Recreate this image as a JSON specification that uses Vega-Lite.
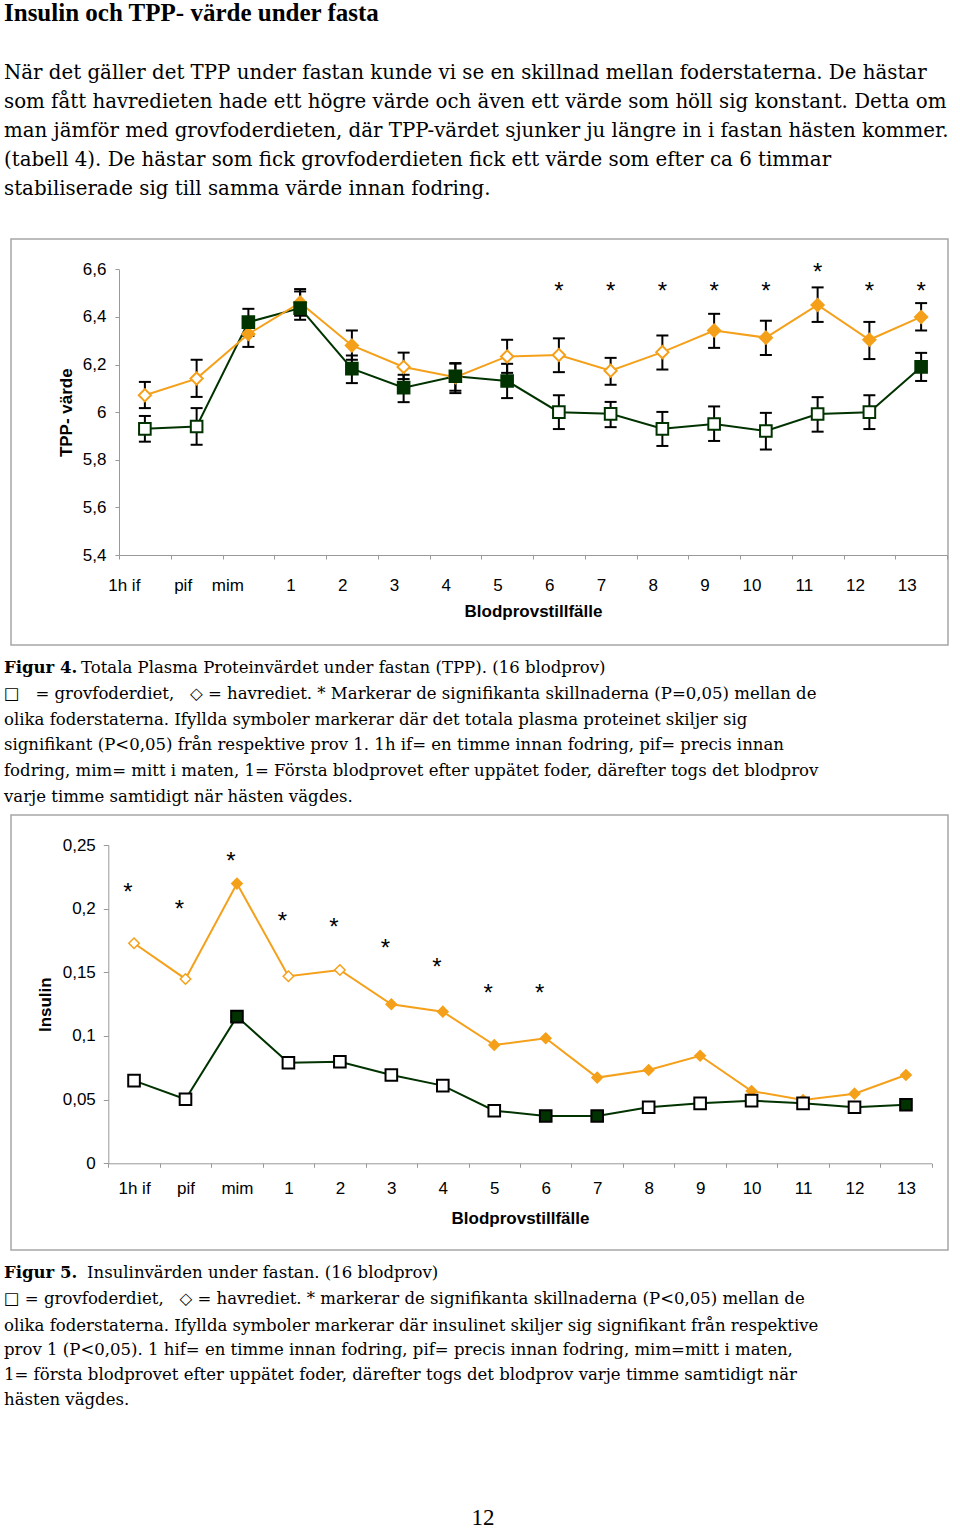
{
  "$schema": "https://vega.github.io/schema/vega-lite/v6.json",
  "background": "white",
  "padding": {"left": 4, "top": 0, "right": 0, "bottom": 0},
  "autosize": {"type": "pad"},
  "spacing": 0,
  "bounds": "flush",
  "config": {"view": {"stroke": null}, "font": "Liberation Sans", "axis": {"grid": false}},
  "datasets": {
    "tpp": [
      {"prov": "1h if", "serie": "Grovfoder", "v": 5.93, "lo": 5.876, "hi": 5.984, "sig": false},
      {"prov": "pif", "serie": "Grovfoder", "v": 5.94, "lo": 5.863, "hi": 6.017, "sig": false},
      {"prov": "mim", "serie": "Grovfoder", "v": 6.378, "lo": 6.32, "hi": 6.434, "sig": true},
      {"prov": "1", "serie": "Grovfoder", "v": 6.437, "lo": 6.388, "hi": 6.507, "sig": true},
      {"prov": "2", "serie": "Grovfoder", "v": 6.183, "lo": 6.122, "hi": 6.238, "sig": true},
      {"prov": "3", "serie": "Grovfoder", "v": 6.103, "lo": 6.042, "hi": 6.157, "sig": true},
      {"prov": "4", "serie": "Grovfoder", "v": 6.151, "lo": 6.08, "hi": 6.206, "sig": true},
      {"prov": "5", "serie": "Grovfoder", "v": 6.131, "lo": 6.059, "hi": 6.203, "sig": true},
      {"prov": "6", "serie": "Grovfoder", "v": 6.0, "lo": 5.929, "hi": 6.071, "sig": false},
      {"prov": "7", "serie": "Grovfoder", "v": 5.993, "lo": 5.937, "hi": 6.043, "sig": false},
      {"prov": "8", "serie": "Grovfoder", "v": 5.93, "lo": 5.858, "hi": 6.001, "sig": false},
      {"prov": "9", "serie": "Grovfoder", "v": 5.95, "lo": 5.879, "hi": 6.024, "sig": false},
      {"prov": "10", "serie": "Grovfoder", "v": 5.921, "lo": 5.843, "hi": 5.997, "sig": false},
      {"prov": "11", "serie": "Grovfoder", "v": 5.992, "lo": 5.918, "hi": 6.063, "sig": false},
      {"prov": "12", "serie": "Grovfoder", "v": 6.0, "lo": 5.929, "hi": 6.071, "sig": false},
      {"prov": "13", "serie": "Grovfoder", "v": 6.19, "lo": 6.131, "hi": 6.249, "sig": true},
      {"prov": "1h if", "serie": "Havre", "v": 6.071, "lo": 6.017, "hi": 6.127, "sig": false},
      {"prov": "pif", "serie": "Havre", "v": 6.141, "lo": 6.064, "hi": 6.22, "sig": false},
      {"prov": "mim", "serie": "Havre", "v": 6.328, "lo": 6.274, "hi": 6.382, "sig": true},
      {"prov": "1", "serie": "Havre", "v": 6.46, "lo": 6.405, "hi": 6.517, "sig": true},
      {"prov": "2", "serie": "Havre", "v": 6.28, "lo": 6.22, "hi": 6.343, "sig": true},
      {"prov": "3", "serie": "Havre", "v": 6.19, "lo": 6.139, "hi": 6.25, "sig": false},
      {"prov": "4", "serie": "Havre", "v": 6.147, "lo": 6.09, "hi": 6.204, "sig": false},
      {"prov": "5", "serie": "Havre", "v": 6.234, "lo": 6.165, "hi": 6.304, "sig": false},
      {"prov": "6", "serie": "Havre", "v": 6.24, "lo": 6.168, "hi": 6.31, "sig": false},
      {"prov": "7", "serie": "Havre", "v": 6.174, "lo": 6.115, "hi": 6.228, "sig": false},
      {"prov": "8", "serie": "Havre", "v": 6.252, "lo": 6.179, "hi": 6.322, "sig": false},
      {"prov": "9", "serie": "Havre", "v": 6.343, "lo": 6.27, "hi": 6.413, "sig": true},
      {"prov": "10", "serie": "Havre", "v": 6.313, "lo": 6.24, "hi": 6.384, "sig": true},
      {"prov": "11", "serie": "Havre", "v": 6.45, "lo": 6.379, "hi": 6.524, "sig": true},
      {"prov": "12", "serie": "Havre", "v": 6.304, "lo": 6.223, "hi": 6.379, "sig": true},
      {"prov": "13", "serie": "Havre", "v": 6.4, "lo": 6.343, "hi": 6.458, "sig": true}
    ],
    "tpp_stjarna": [
      {"prov": "6", "y": 6.535}, {"prov": "7", "y": 6.535}, {"prov": "8", "y": 6.535},
      {"prov": "9", "y": 6.535}, {"prov": "10", "y": 6.535}, {"prov": "11", "y": 6.611},
      {"prov": "12", "y": 6.535}, {"prov": "13", "y": 6.535}
    ],
    "ins": [
      {"prov": "1h if", "serie": "Grovfoder", "v": 0.0649, "sig": false},
      {"prov": "pif", "serie": "Grovfoder", "v": 0.0503, "sig": false},
      {"prov": "mim", "serie": "Grovfoder", "v": 0.1152, "sig": true},
      {"prov": "1", "serie": "Grovfoder", "v": 0.079, "sig": false},
      {"prov": "2", "serie": "Grovfoder", "v": 0.0798, "sig": false},
      {"prov": "3", "serie": "Grovfoder", "v": 0.0694, "sig": false},
      {"prov": "4", "serie": "Grovfoder", "v": 0.061, "sig": false},
      {"prov": "5", "serie": "Grovfoder", "v": 0.0413, "sig": false},
      {"prov": "6", "serie": "Grovfoder", "v": 0.0372, "sig": true},
      {"prov": "7", "serie": "Grovfoder", "v": 0.0372, "sig": true},
      {"prov": "8", "serie": "Grovfoder", "v": 0.044, "sig": false},
      {"prov": "9", "serie": "Grovfoder", "v": 0.0471, "sig": false},
      {"prov": "10", "serie": "Grovfoder", "v": 0.0492, "sig": false},
      {"prov": "11", "serie": "Grovfoder", "v": 0.0471, "sig": false},
      {"prov": "12", "serie": "Grovfoder", "v": 0.044, "sig": false},
      {"prov": "13", "serie": "Grovfoder", "v": 0.046, "sig": true},
      {"prov": "1h if", "serie": "Havre", "v": 0.1728, "sig": false},
      {"prov": "pif", "serie": "Havre", "v": 0.1448, "sig": false},
      {"prov": "mim", "serie": "Havre", "v": 0.2197, "sig": true},
      {"prov": "1", "serie": "Havre", "v": 0.1469, "sig": false},
      {"prov": "2", "serie": "Havre", "v": 0.1518, "sig": false},
      {"prov": "3", "serie": "Havre", "v": 0.1249, "sig": true},
      {"prov": "4", "serie": "Havre", "v": 0.1191, "sig": true},
      {"prov": "5", "serie": "Havre", "v": 0.0929, "sig": true},
      {"prov": "6", "serie": "Havre", "v": 0.0982, "sig": true},
      {"prov": "7", "serie": "Havre", "v": 0.0673, "sig": true},
      {"prov": "8", "serie": "Havre", "v": 0.0733, "sig": true},
      {"prov": "9", "serie": "Havre", "v": 0.0845, "sig": true},
      {"prov": "10", "serie": "Havre", "v": 0.0568, "sig": true},
      {"prov": "11", "serie": "Havre", "v": 0.0497, "sig": true},
      {"prov": "12", "serie": "Havre", "v": 0.0547, "sig": true},
      {"prov": "13", "serie": "Havre", "v": 0.0694, "sig": true}
    ],
    "ins_stjarna": [
      {"prov": "1h if", "y": 0.2173}, {"prov": "pif", "y": 0.2042}, {"prov": "mim", "y": 0.2416},
      {"prov": "1", "y": 0.195}, {"prov": "2", "y": 0.1903}, {"prov": "3", "y": 0.1733},
      {"prov": "4", "y": 0.1584}, {"prov": "5", "y": 0.1383}, {"prov": "6", "y": 0.1383}
    ]
  },
  "vconcat": [
    {
      "width": 937, "height": 239,
      "layer": [
        {
          "data": {"values": [{"rad": 0, "text": "Insulin och TPP- värde under fasta"}]},
          "mark": {"type": "text", "align": "left", "baseline": "alphabetic", "font": "Liberation Serif", "fontSize": 25, "fontWeight": "bold", "fill": "black"},
          "encoding": {
            "x": {"value": -7},
            "y": {"field": "rad", "type": "quantitative", "scale": {"domain": [0, 1, 5], "range": [20.8, 78.5, 194.5]}, "axis": null},
            "text": {"field": "text"}
          }
        },
        {
          "data": {"values": [
            {"rad": 1, "text": "När det gäller det TPP under fastan kunde vi se en skillnad mellan foderstaterna. De hästar"},
            {"rad": 2, "text": "som fått havredieten hade ett högre värde och även ett värde som höll sig konstant. Detta om"},
            {"rad": 3, "text": "man jämför med grovfoderdieten, där TPP-värdet sjunker ju längre in i fastan hästen kommer."},
            {"rad": 4, "text": "(tabell 4). De hästar som fick grovfoderdieten fick ett värde som efter ca 6 timmar"},
            {"rad": 5, "text": "stabiliserade sig till samma värde innan fodring."}
          ]},
          "mark": {"type": "text", "align": "left", "baseline": "alphabetic", "font": "DejaVu Serif", "fontSize": 19.8, "fill": "black"},
          "encoding": {
            "x": {"value": -7},
            "y": {"field": "rad", "type": "quantitative", "scale": {"domain": [0, 1, 5], "range": [20.8, 78.5, 194.5]}, "axis": null},
            "text": {"field": "text"}
          }
        }
      ]
    },
    {
      "width": 937, "height": 406,
      "view": {"stroke": "#a6a6a6", "strokeWidth": 1.5},
      "encoding": {
        "x": {
          "field": "prov", "type": "nominal",
          "sort": ["1h if", "pif", "mim", "1", "2", "3", "4", "5", "6", "7", "8", "9", "10", "11", "12", "13"],
          "scale": {"type": "band", "domain": ["1h if", "pif", "mim", "1", "2", "3", "4", "5", "6", "7", "8", "9", "10", "11", "12", "13"], "range": [108, 936], "paddingInner": 0, "paddingOuter": 0},
          "axis": {
            "title": "Blodprovstillfälle", "orient": "bottom", "offset": -90, "tickBand": "extent",
            "tickSize": 4, "tickColor": "#999999", "domainColor": "#999999", "labelAngle": 0,
            "labelAlign": "right", "labelOffset": -5, "labelBaseline": "alphabetic", "labelPadding": 31,
            "labelFont": "Liberation Sans", "labelFontSize": 17, "labelColor": "black", "labelOverlap": false, "labelFlush": false,
            "titleFont": "Liberation Sans", "titleFontSize": 17, "titleFontWeight": "bold", "titleColor": "black",
            "titleY": 61, "titleBaseline": "alphabetic"
          }
        }
      },
      "layer": [
        {
          "data": {"name": "tpp"},
          "mark": {"type": "line", "strokeWidth": 2},
          "encoding": {
            "y": {
              "field": "v", "type": "quantitative",
              "scale": {"domain": [5.4, 6.6], "range": [316, 30.3], "nice": false, "zero": false},
              "axis": {
                "title": "TPP- värde", "orient": "left", "offset": -108,
                "values": [5.4, 5.6, 5.8, 6, 6.2, 6.4, 6.6],
                "labelExpr": "replace(toString(round(datum.value*10)/10), '.', ',')",
                "tickSize": 4, "labelPadding": 9, "tickColor": "#999999", "domainColor": "#999999",
                "labelFont": "Liberation Sans", "labelFontSize": 17, "labelColor": "black",
                "titleFont": "Liberation Sans", "titleFontSize": 17, "titleFontWeight": "bold", "titleColor": "black",
                "titleX": -48, "titleY": 173.2, "titleAngle": -90, "titleAlign": "center", "titleBaseline": "alphabetic"
              }
            },
            "color": {"field": "serie", "type": "nominal", "scale": {"domain": ["Grovfoder", "Havre"], "range": ["#003300", "#f5a01a"]}, "legend": null}
          }
        },
        {
          "data": {"name": "tpp"},
          "mark": {"type": "rule", "color": "black", "strokeWidth": 2},
          "encoding": {
            "y": {"field": "lo", "type": "quantitative"},
            "y2": {"field": "hi"}
          }
        },
        {
          "data": {"name": "tpp"},
          "mark": {"type": "tick", "color": "black", "size": 12, "thickness": 2, "opacity": 1},
          "encoding": {"y": {"field": "lo", "type": "quantitative"}}
        },
        {
          "data": {"name": "tpp"},
          "mark": {"type": "tick", "color": "black", "size": 12, "thickness": 2, "opacity": 1},
          "encoding": {"y": {"field": "hi", "type": "quantitative"}}
        },
        {
          "data": {"name": "tpp"},
          "transform": [{"filter": "datum.serie === 'Havre'"}],
          "mark": {"type": "point", "shape": "diamond", "size": 150, "filled": true, "stroke": "#f5a01a", "strokeWidth": 2, "opacity": 1},
          "encoding": {
            "y": {"field": "v", "type": "quantitative"},
            "fill": {"condition": {"test": "datum.sig", "value": "#f5a01a"}, "value": "white"}
          }
        },
        {
          "data": {"name": "tpp"},
          "transform": [{"filter": "datum.serie === 'Grovfoder'"}],
          "mark": {"type": "point", "shape": "square", "size": 135, "filled": true, "stroke": "#003300", "strokeWidth": 2, "opacity": 1},
          "encoding": {
            "y": {"field": "v", "type": "quantitative"},
            "fill": {"condition": {"test": "datum.sig", "value": "#003300"}, "value": "white"}
          }
        },
        {
          "data": {"name": "tpp_stjarna"},
          "mark": {"type": "text", "text": "*", "font": "Liberation Sans", "fontSize": 24, "baseline": "alphabetic", "dy": 13.8, "fill": "black"},
          "encoding": {"y": {"field": "y", "type": "quantitative"}}
        }
      ]
    },
    {
      "width": 937, "height": 170,
      "layer": [
        {
          "data": {"values": [{"rad": 1, "text": "Figur 4."}]},
          "mark": {"type": "text", "align": "left", "baseline": "alphabetic", "font": "DejaVu Serif", "fontSize": 16.55, "fontWeight": "bold", "fill": "black"},
          "encoding": {
            "x": {"value": -7},
            "y": {"field": "rad", "type": "quantitative", "scale": {"domain": [1, 6], "range": [28.3, 156.8]}, "axis": null},
            "text": {"field": "text"}
          }
        },
        {
          "data": {"values": [{"rad": 1, "text": "Totala Plasma Proteinvärdet under fastan (TPP). (16 blodprov)"}]},
          "mark": {"type": "text", "align": "left", "baseline": "alphabetic", "font": "DejaVu Serif", "fontSize": 16.55, "dx": 77, "fill": "black"},
          "encoding": {
            "x": {"value": -7},
            "y": {"field": "rad", "type": "quantitative", "scale": {"domain": [1, 6], "range": [28.3, 156.8]}, "axis": null},
            "text": {"field": "text"}
          }
        },
        {
          "data": {"values": [
            {"rad": 2, "text": "□\u00a0\u00a0\u00a0= grovfoderdiet,\u00a0\u00a0\u00a0◇ = havrediet. * Markerar de signifikanta skillnaderna (P=0,05) mellan de"},
            {"rad": 3, "text": "olika foderstaterna. Ifyllda symboler markerar där det totala plasma proteinet skiljer sig"},
            {"rad": 4, "text": "signifikant (P<0,05) från respektive prov 1. 1h if= en timme innan fodring, pif= precis innan"},
            {"rad": 5, "text": "fodring, mim= mitt i maten, 1= Första blodprovet efter uppätet foder, därefter togs det blodprov"},
            {"rad": 6, "text": "varje timme samtidigt när hästen vägdes."}
          ]},
          "mark": {"type": "text", "align": "left", "baseline": "alphabetic", "font": "DejaVu Serif", "fontSize": 16.55, "fill": "black"},
          "encoding": {
            "x": {"value": -7},
            "y": {"field": "rad", "type": "quantitative", "scale": {"domain": [1, 6], "range": [28.3, 156.8]}, "axis": null},
            "text": {"field": "text"}
          }
        }
      ]
    },
    {
      "width": 937, "height": 435,
      "view": {"stroke": "#a6a6a6", "strokeWidth": 1.5},
      "encoding": {
        "x": {
          "field": "prov", "type": "nominal",
          "sort": ["1h if", "pif", "mim", "1", "2", "3", "4", "5", "6", "7", "8", "9", "10", "11", "12", "13"],
          "scale": {"type": "band", "domain": ["1h if", "pif", "mim", "1", "2", "3", "4", "5", "6", "7", "8", "9", "10", "11", "12", "13"], "range": [97.3, 920.7], "paddingInner": 0, "paddingOuter": 0},
          "axis": {
            "title": "Blodprovstillfälle", "orient": "bottom", "offset": -86.7, "tickBand": "extent",
            "tickSize": 4, "tickColor": "#999999", "domainColor": "#999999", "labelAngle": 0,
            "labelAlign": "center", "labelBaseline": "alphabetic", "labelPadding": 26,
            "labelFont": "Liberation Sans", "labelFontSize": 17, "labelColor": "black", "labelOverlap": false, "labelFlush": false,
            "titleFont": "Liberation Sans", "titleFontSize": 17, "titleFontWeight": "bold", "titleColor": "black",
            "titleY": 60, "titleBaseline": "alphabetic"
          }
        }
      },
      "layer": [
        {
          "data": {"name": "ins"},
          "mark": {"type": "line", "strokeWidth": 2},
          "encoding": {
            "y": {
              "field": "v", "type": "quantitative",
              "scale": {"domain": [0, 0.25], "range": [348.3, 30], "nice": false, "zero": false},
              "axis": {
                "title": "Insulin", "orient": "left", "offset": -97.3,
                "values": [0, 0.05, 0.1, 0.15, 0.2, 0.25],
                "labelExpr": "replace(toString(round(datum.value*100)/100), '.', ',')",
                "tickSize": 5, "labelPadding": 8, "tickColor": "#999999", "domainColor": "#999999",
                "labelFont": "Liberation Sans", "labelFontSize": 17, "labelColor": "black",
                "titleFont": "Liberation Sans", "titleFontSize": 17, "titleFontWeight": "bold", "titleColor": "black",
                "titleX": -58.3, "titleY": 189.2, "titleAngle": -90, "titleAlign": "center", "titleBaseline": "alphabetic"
              }
            },
            "color": {"field": "serie", "type": "nominal", "scale": {"domain": ["Grovfoder", "Havre"], "range": ["#000000", "#f5a01a"]}, "legend": null}
          }
        },
        {
          "data": {"name": "ins"},
          "transform": [{"filter": "datum.serie === 'Havre'"}],
          "mark": {"type": "point", "shape": "diamond", "size": 110, "filled": true, "stroke": "#f5a01a", "strokeWidth": 1.5, "opacity": 1},
          "encoding": {
            "y": {"field": "v", "type": "quantitative"},
            "fill": {"condition": {"test": "datum.sig", "value": "#f5a01a"}, "value": "white"}
          }
        },
        {
          "data": {"name": "ins"},
          "transform": [{"filter": "datum.serie === 'Grovfoder'"}],
          "mark": {"type": "point", "shape": "square", "size": 135, "filled": true, "stroke": "#000000", "strokeWidth": 2, "opacity": 1},
          "encoding": {
            "y": {"field": "v", "type": "quantitative"},
            "fill": {"condition": {"test": "datum.sig", "value": "#003300"}, "value": "white"}
          }
        },
        {
          "data": {"name": "ins_stjarna"},
          "mark": {"type": "text", "text": "*", "font": "Liberation Sans", "fontSize": 24, "baseline": "alphabetic", "dy": 13.8, "dx": -6, "fill": "black"},
          "encoding": {"y": {"field": "y", "type": "quantitative"}}
        }
      ]
    },
    {
      "width": 937, "height": 279,
      "layer": [
        {
          "data": {"values": [{"rad": 1, "text": "Figur 5."}]},
          "mark": {"type": "text", "align": "left", "baseline": "alphabetic", "font": "DejaVu Serif", "fontSize": 16.55, "fontWeight": "bold", "fill": "black"},
          "encoding": {
            "x": {"value": -7},
            "y": {"field": "rad", "type": "quantitative", "scale": {"domain": [1, 3, 6, 7], "range": [27.5, 80.5, 155, 275.3]}, "axis": null},
            "text": {"field": "text"}
          }
        },
        {
          "data": {"values": [{"rad": 1, "text": "Insulinvärden under fastan. (16 blodprov)"}]},
          "mark": {"type": "text", "align": "left", "baseline": "alphabetic", "font": "DejaVu Serif", "fontSize": 16.55, "dx": 83, "fill": "black"},
          "encoding": {
            "x": {"value": -7},
            "y": {"field": "rad", "type": "quantitative", "scale": {"domain": [1, 3, 6, 7], "range": [27.5, 80.5, 155, 275.3]}, "axis": null},
            "text": {"field": "text"}
          }
        },
        {
          "data": {"values": [
            {"rad": 2, "text": "□ = grovfoderdiet,\u00a0\u00a0\u00a0◇ = havrediet. * markerar de signifikanta skillnaderna (P<0,05) mellan de"},
            {"rad": 3, "text": "olika foderstaterna. Ifyllda symboler markerar där insulinet skiljer sig signifikant från respektive"},
            {"rad": 4, "text": "prov 1 (P<0,05). 1 hif= en timme innan fodring, pif= precis innan fodring, mim=mitt i maten,"},
            {"rad": 5, "text": "1= första blodprovet efter uppätet foder, därefter togs det blodprov varje timme samtidigt när"},
            {"rad": 6, "text": "hästen vägdes."}
          ]},
          "mark": {"type": "text", "align": "left", "baseline": "alphabetic", "font": "DejaVu Serif", "fontSize": 16.55, "fill": "black"},
          "encoding": {
            "x": {"value": -7},
            "y": {"field": "rad", "type": "quantitative", "scale": {"domain": [1, 3, 6, 7], "range": [27.5, 80.5, 155, 275.3]}, "axis": null},
            "text": {"field": "text"}
          }
        },
        {
          "data": {"values": [{"rad": 7, "text": "12"}]},
          "mark": {"type": "text", "align": "center", "baseline": "alphabetic", "font": "Liberation Serif", "fontSize": 23, "fill": "black"},
          "encoding": {
            "x": {"value": 472},
            "y": {"field": "rad", "type": "quantitative", "scale": {"domain": [1, 3, 6, 7], "range": [27.5, 80.5, 155, 275.3]}, "axis": null},
            "text": {"field": "text"}
          }
        }
      ]
    }
  ]
}
